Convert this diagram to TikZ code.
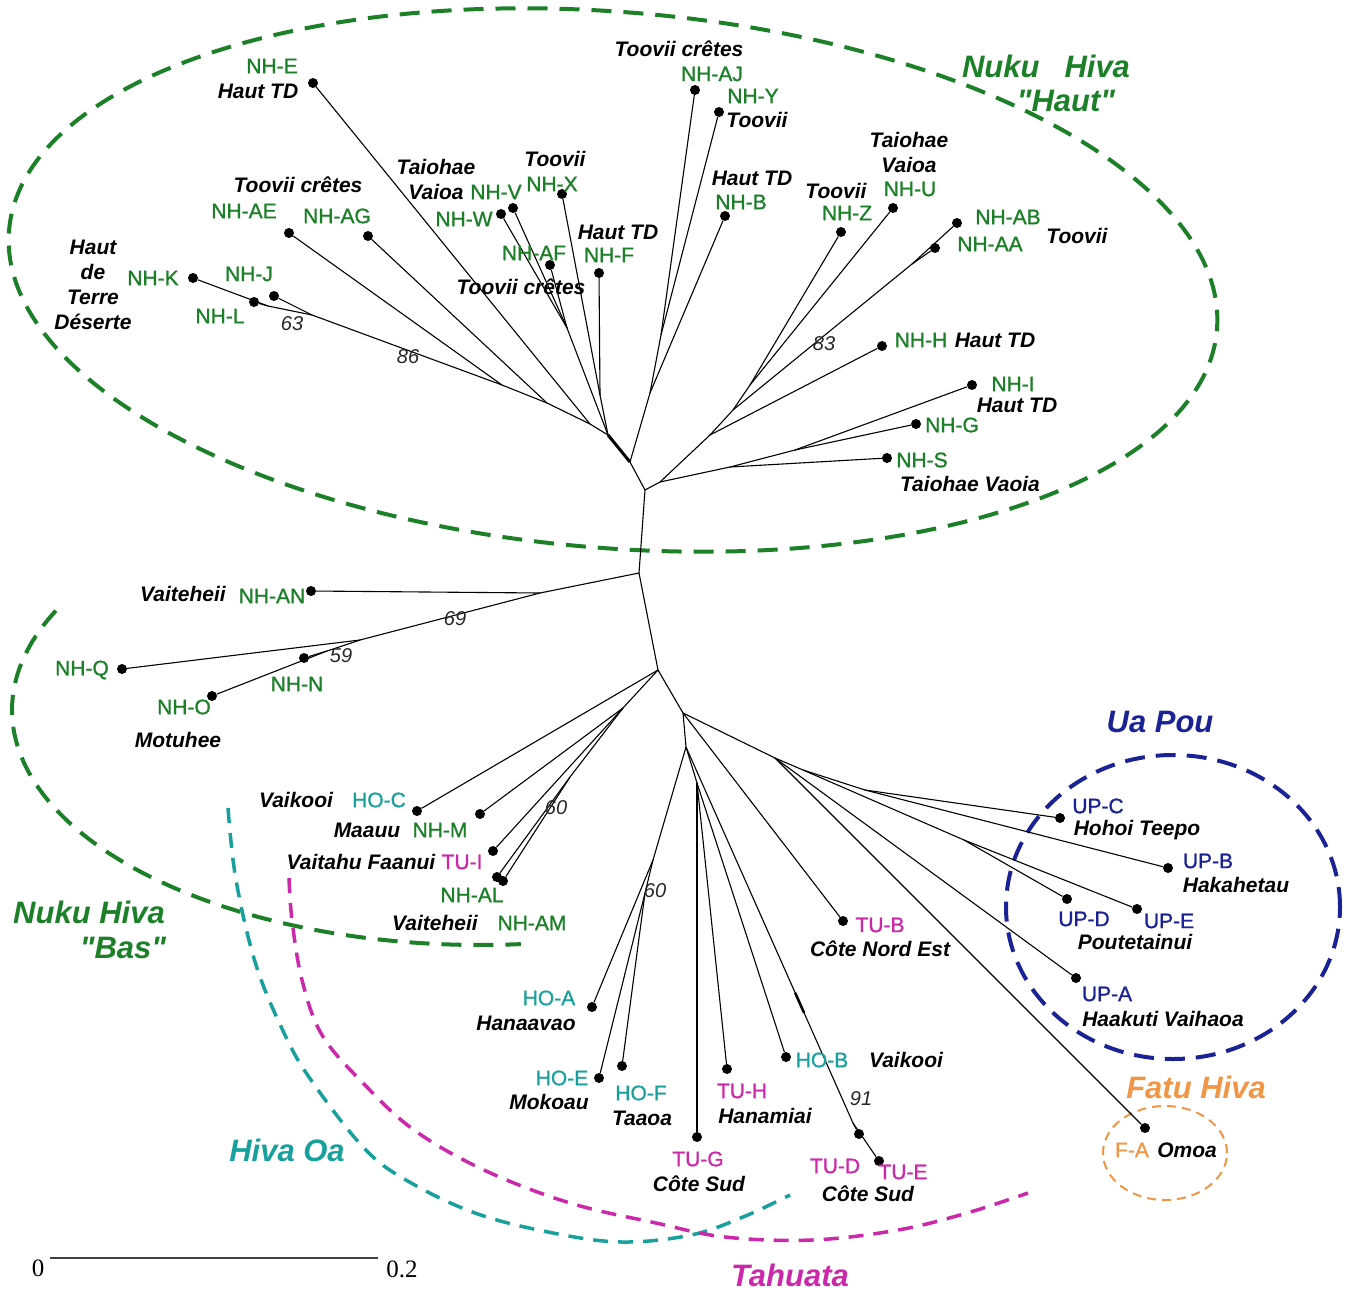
\documentclass[tikz,border=0pt]{standalone}
\usepackage{fontspec}
\setmainfont{Liberation Sans}
\newfontfamily\scalefont{Liberation Serif}
\newfontfamily\codefont[FakeBold=1.1]{Liberation Sans}
\newfontfamily\grpfont[Ligatures=TeXOff]{Liberation Sans}
\usetikzlibrary{calc}
\definecolor{nhgreen}{RGB}{28,128,40}
\definecolor{hoteal}{RGB}{24,160,156}
\definecolor{tumag}{RGB}{204,40,170}
\definecolor{upblue}{RGB}{26,34,150}
\definecolor{faorange}{RGB}{240,150,70}
\begin{document}
\begin{tikzpicture}[x=1pt,y=-1pt,
  leaf/.style={circle,fill=black,inner sep=0pt,minimum size=10pt},
  br/.style={line width=1.1pt,black},
  code/.style={inner sep=0pt,font=\codefont\fontsize{21}{24}\selectfont},
  place/.style={inner sep=0pt,font=\fontsize{21}{24}\selectfont\bfseries\itshape},
  boot/.style={inner sep=0pt,font=\fontsize{20}{24}\selectfont\itshape,black!85},
  grp/.style={inner sep=0pt,font=\grpfont\fontsize{31}{34}\selectfont\bfseries\itshape},
  nh/.style={code,text=nhgreen},
  ho/.style={code,text=hoteal},
  tu/.style={code,text=tumag},
  up/.style={code,text=upblue},
  fa/.style={code,text=faorange}]
\useasboundingbox (0,0) rectangle (1354,1290);

% ---------- group outlines ----------
\draw[nhgreen,line width=4pt,dash pattern=on 20pt off 12pt,rotate around={-4.7:(613,280)}]
  (613,280) ellipse [x radius=606pt, y radius=268pt];
\draw[nhgreen,line width=4pt,dash pattern=on 20pt off 12pt]
  plot[domain=155:275,samples=90,variable=\t] ({480+468*cos(\t)},{710-235*sin(\t)});
\draw[hoteal,line width=3.5pt,dash pattern=on 15pt off 10pt]
  plot[smooth,tension=0.6] coordinates {(228,808) (236,880) (256,965) (285,1035) (311,1080)
   (363,1147) (406,1180) (475,1213) (553,1233) (622,1242) (691,1235) (743,1217) (790,1195)};
\draw[tumag,line width=3.5pt,dash pattern=on 15pt off 10pt]
  plot[smooth,tension=0.6] coordinates {(289,878) (292,920) (302,980) (322,1035) (363,1083)
   (414,1130) (484,1170) (570,1203) (656,1223) (725,1237) (812,1240) (898,1230) (967,1213) (1028,1193)};
\draw[upblue,line width=4pt,dash pattern=on 20pt off 11pt]
  (1173,907) ellipse [x radius=167pt, y radius=152pt];
\draw[faorange,line width=2pt,dash pattern=on 9pt off 6pt]
  (1165,1153) ellipse [x radius=62pt, y radius=47pt];

% ---------- internal nodes of the tree ----------
\coordinate (nT0) at (645,490);  \coordinate (nT1) at (630,462);
\coordinate (nA) at (608,435);   \coordinate (nE) at (590,424);
\coordinate (nB) at (547,403);   \coordinate (nC) at (502,385);
\coordinate (n63) at (312,315);  \coordinate (nKL) at (268,306);
\coordinate (nXF) at (600,395);  \coordinate (nWV) at (567,328);
\coordinate (nBJ) at (650,393);  \coordinate (nAJY) at (661,335);
\coordinate (nR1) at (660,482);  \coordinate (nR2) at (730,467);
\coordinate (nR3) at (795,450);  \coordinate (nR4) at (710,435);
\coordinate (nR5) at (733,410);  \coordinate (nR6) at (750,385);
\coordinate (nAAB) at (912,264);
\coordinate (nM1) at (639,573);  \coordinate (nL1) at (540,593);
\coordinate (n69) at (360,640);  \coordinate (n59) at (327,651);
\coordinate (nM2) at (658,670);  \coordinate (nLL1) at (623,708);
\coordinate (n60L) at (570,777); \coordinate (nLR) at (683,713);
\coordinate (nLR2) at (686,747); \coordinate (nHB) at (697,783);
\coordinate (nHOA) at (653,860); \coordinate (nEF) at (645,893);
\coordinate (nTUDE) at (853,1123);
\coordinate (nUR1) at (775,758); \coordinate (nUR2) at (803,770);
\coordinate (nUCB) at (865,790); \coordinate (nUDE) at (964,840);

% ---------- leaves ----------
\node[leaf] (NHE) at (313,83) {};
\node[leaf] (NHAJ) at (695,90) {};
\node[leaf] (NHY) at (719,112) {};
\node[leaf] (NHB) at (725,216) {};
\node[leaf] (NHF) at (599,273) {};
\node[leaf] (NHX) at (562,194) {};
\node[leaf] (NHV) at (513,208) {};
\node[leaf] (NHW) at (501,214) {};
\node[leaf] (NHAF) at (550,265) {};
\node[leaf] (NHAE) at (289,233) {};
\node[leaf] (NHAG) at (368,236) {};
\node[leaf] (NHK) at (193,278) {};
\node[leaf] (NHL) at (254,302) {};
\node[leaf] (NHJ) at (274,296) {};
\node[leaf] (NHU) at (893,208) {};
\node[leaf] (NHZ) at (841,232) {};
\node[leaf] (NHAB) at (957,223) {};
\node[leaf] (NHAA) at (935,248) {};
\node[leaf] (NHH) at (882,346) {};
\node[leaf] (NHI) at (972,385) {};
\node[leaf] (NHG) at (916,424) {};
\node[leaf] (NHS) at (887,458) {};
\node[leaf] (NHAN) at (311,591) {};
\node[leaf] (NHQ) at (122,669) {};
\node[leaf] (NHN) at (304,658) {};
\node[leaf] (NHO) at (212,696) {};
\node[leaf] (HOC) at (417,811) {};
\node[leaf] (NHM) at (480,814) {};
\node[leaf] (TUI) at (493,851) {};
\node[leaf] (NHAL) at (497,877) {};
\node[leaf] (NHAM) at (503,881) {};
\node[leaf] (HOA) at (592,1007) {};
\node[leaf] (HOE) at (599,1078) {};
\node[leaf] (HOF) at (622,1066) {};
\node[leaf] (TUG) at (697,1137) {};
\node[leaf] (TUH) at (727,1069) {};
\node[leaf] (HOB) at (786,1057) {};
\node[leaf] (TUB) at (843,921) {};
\node[leaf] (TUD) at (859,1134) {};
\node[leaf] (TUE) at (879,1161) {};
\node[leaf] (UPC) at (1060,818) {};
\node[leaf] (UPB) at (1168,868) {};
\node[leaf] (UPD) at (1067,899) {};
\node[leaf] (UPE) at (1137,909) {};
\node[leaf] (UPA) at (1076,978) {};
\node[leaf] (FA) at (1145,1128) {};

% ---------- branches ----------
\foreach \a/\b in {nKL/NHK,nKL/NHL,n63/nKL,n63/NHJ,nC/n63,nC/NHAE,nB/nC,nB/NHAG,
  nE/nB,nE/NHE,nA/nE,nXF/NHX,nXF/NHF,nA/nXF,nWV/NHW,nWV/NHV,nWV/NHAF,nA/nWV,
  nAJY/NHAJ,nAJY/NHY,nBJ/nAJY,nBJ/NHB,nT1/nBJ,nT0/nT1,nT0/nR1,nR1/nR2,nR2/NHS,
  nR2/nR3,nR3/NHG,nR3/NHI,nR1/nR4,nR4/NHH,nR4/nR5,nR5/nAAB,nAAB/NHAA,nAAB/NHAB,
  nR5/nR6,nR6/NHZ,nR6/NHU,nT0/nM1,nM1/nL1,nL1/NHAN,nL1/n69,n69/NHQ,n69/n59,
  n59/NHN,n59/NHO,nM1/nM2,nM2/HOC,nM2/nLL1,nM2/nLR,nLL1/NHM,nLL1/TUI,nLL1/n60L,
  n60L/NHAL,n60L/NHAM,nLR/nLR2,nLR/TUB,nLR/nUR1,nLR2/nHOA,nLR2/nHB,nLR2/nTUDE,
  nHB/TUG,nHB/TUH,nHB/HOB,nHOA/HOA,nHOA/nEF,nEF/HOE,nEF/HOF,nTUDE/TUD,nTUDE/TUE,
  nUR1/UPA,nUR1/FA,nUR1/nUR2,nUR2/nUCB,nUR2/nUDE,nUCB/UPC,nUCB/UPB,nUDE/UPD,nUDE/UPE}
  \draw[br] (\a) -- (\b);
\draw[line width=3pt] (nA) -- (nT1);
\draw[line width=2.6pt] ($(nLR2)!0.654!(nTUDE)$) -- ($(nLR2)!0.707!(nTUDE)$);

% ---------- labels: Nuku Hiva "Haut" ----------
\node[nh] (tNHE) at (272,66) {NH-E};
\node[place] (pNHE) at (258,91) {Haut TD};
\node[place] (pNHAE) at (298,185) {Toovii crêtes};
\node[nh] (tNHAE) at (244,211) {NH-AE};
\node[nh] (tNHAG) at (337,216) {NH-AG};
\node[place] (pK1) at (93,247) {Haut};
\node[place] (pK2) at (93,272) {de};
\node[place] (pK3) at (93,297) {Terre};
\node[place] (pK4) at (93,322) {Déserte};
\node[nh] (tNHK) at (153,278) {NH-K};
\node[nh] (tNHJ) at (249,274) {NH-J};
\node[nh] (tNHL) at (220,316) {NH-L};
\node[boot] (b63) at (292,324) {63};
\node[boot] (b86) at (408,357) {86};
\node[place] (pV1) at (436,167) {Taiohae};
\node[place] (pV2) at (436,192) {Vaioa};
\node[nh] (tNHV) at (496,192) {NH-V};
\node[nh] (tNHW) at (464,219) {NH-W};
\node[place] (pNHX) at (555,159) {Toovii};
\node[nh] (tNHX) at (552,184) {NH-X};
\node[nh] (tNHAF) at (534,253) {NH-AF};
\node[place] (pNHAF) at (521,287) {Toovii crêtes};
\node[place] (pNHF) at (618,232) {Haut TD};
\node[nh] (tNHF) at (609,255) {NH-F};
\node[place] (pNHB) at (752,178) {Haut TD};
\node[nh] (tNHB) at (741,202) {NH-B};
\node[place] (pNHAJ) at (679,49) {Toovii crêtes};
\node[nh] (tNHAJ) at (712,74) {NH-AJ};
\node[nh] (tNHY) at (753,96) {NH-Y};
\node[place] (pNHY) at (757,120) {Toovii};
\node[place] (pU1) at (909,140) {Taiohae};
\node[place] (pU2) at (909,165) {Vaioa};
\node[nh] (tNHU) at (910,189) {NH-U};
\node[place] (pNHZ) at (836,191) {Toovii};
\node[nh] (tNHZ) at (847,213) {NH-Z};
\node[nh] (tNHAB) at (1008,217) {NH-AB};
\node[nh] (tNHAA) at (990,244) {NH-AA};
\node[place] (pNHAB) at (1077,236) {Toovii};
\node[boot] (b83) at (824,344) {83};
\node[nh] (tNHH) at (921,340) {NH-H};
\node[place] (pNHH) at (995,340) {Haut TD};
\node[nh] (tNHI) at (1013,384) {NH-I};
\node[place] (pNHI) at (1017,405) {Haut TD};
\node[nh] (tNHG) at (952,425) {NH-G};
\node[nh] (tNHS) at (922,460) {NH-S};
\node[place] (pNHS) at (970,484) {Taiohae Vaoia};
\node[grp,text=nhgreen] (gNH1) at (1046,66) {Nuku\hspace{25pt}Hiva};
\node[grp,text=nhgreen] (gNH2) at (1066,101) {"Haut"};

% ---------- labels: lower part ----------
\node[place] (pNHAN) at (183,594) {Vaiteheii};
\node[nh] (tNHAN) at (272,596) {NH-AN};
\node[boot] (b69) at (455,619) {69};
\node[nh] (tNHQ) at (82,670) {NH-Q};
\node[boot] (b59) at (341,656) {59};
\node[nh] (tNHN) at (297,684) {NH-N};
\node[nh] (tNHO) at (184,707) {NH-O};
\node[place] (pNHO) at (178,740) {Motuhee};
\node[place] (pHOC) at (296,800) {Vaikooi};
\node[ho] (tHOC) at (379,800) {HO-C};
\node[place] (pNHM) at (367,830) {Maauu};
\node[nh] (tNHM) at (440,830) {NH-M};
\node[boot] (b60a) at (556,808) {60};
\node[place] (pTUI) at (361,862) {Vaitahu Faanui};
\node[tu] (tTUI) at (462,862) {TU-I};
\node[nh] (tNHAL) at (472,895) {NH-AL};
\node[place] (pNHAM) at (435,923) {Vaiteheii};
\node[nh] (tNHAM) at (532,923) {NH-AM};
\node[boot] (b60b) at (655,891) {60};
\node[grp,text=nhgreen] (gNB1) at (89,912) {Nuku Hiva};
\node[grp,text=nhgreen] (gNB2) at (123,948) {"Bas"};
\node[ho] (tHOA) at (549,998) {HO-A};
\node[place] (pHOA) at (526,1023) {Hanaavao};
\node[ho] (tHOE) at (562,1078) {HO-E};
\node[place] (pHOE) at (549,1102) {Mokoau};
\node[ho] (tHOF) at (641,1093) {HO-F};
\node[place] (pHOF) at (642,1118) {Taaoa};
\node[tu] (tTUG) at (698,1159) {TU-G};
\node[place] (pTUG) at (699,1184) {Côte Sud};
\node[tu] (tTUH) at (742,1091) {TU-H};
\node[place] (pTUH) at (765,1116) {Hanamiai};
\node[ho] (tHOB) at (822,1060) {HO-B};
\node[place] (pHOB) at (906,1060) {Vaikooi};
\node[boot] (b91) at (861,1099) {91};
\node[tu] (tTUB) at (880,925) {TU-B};
\node[place] (pTUB) at (880,949) {Côte Nord Est};
\node[tu] (tTUD) at (835,1166) {TU-D};
\node[tu] (tTUE) at (903,1172) {TU-E};
\node[place] (pTUD) at (868,1194) {Côte Sud};
\node[grp,text=upblue] (gUP) at (1160,722) {Ua Pou};
\node[up] (tUPC) at (1098,806) {UP-C};
\node[place] (pUPC) at (1137,830) {Hohoi Teepo};
\node[up] (tUPB) at (1208,861) {UP-B};
\node[place] (pUPB) at (1236,885) {Hakahetau};
\node[up] (tUPD) at (1084,919) {UP-D};
\node[up] (tUPE) at (1169,921) {UP-E};
\node[place] (pUPD) at (1135,942) {Poutetainui};
\node[up] (tUPA) at (1107,994) {UP-A};
\node[place] (pUPA) at (1163,1019) {Haakuti Vaihaoa};
\node[grp,text=faorange] (gFA) at (1196,1087) {Fatu Hiva};
\node[fa] (tFA) at (1132,1150) {F-A};
\node[place] (pFA) at (1187,1150) {Omoa};
\node[grp,text=hoteal] (gHO) at (287,1150) {Hiva Oa};
\node[grp,text=tumag] (gTU) at (790,1275) {Tahuata};

% ---------- scale bar ----------
\coordinate (s0) at (50,1258);
\coordinate (s1) at (378,1258);
\draw[line width=1.2pt,black!75] (s0) -- (s1);
\node[inner sep=0pt,font=\scalefont\fontsize{25}{28}\selectfont] (sc0) at (38,1268) {0};
\node[inner sep=0pt,font=\scalefont\fontsize{25}{28}\selectfont] (sc1) at (402,1269) {0.2};
\end{tikzpicture}
\end{document}
